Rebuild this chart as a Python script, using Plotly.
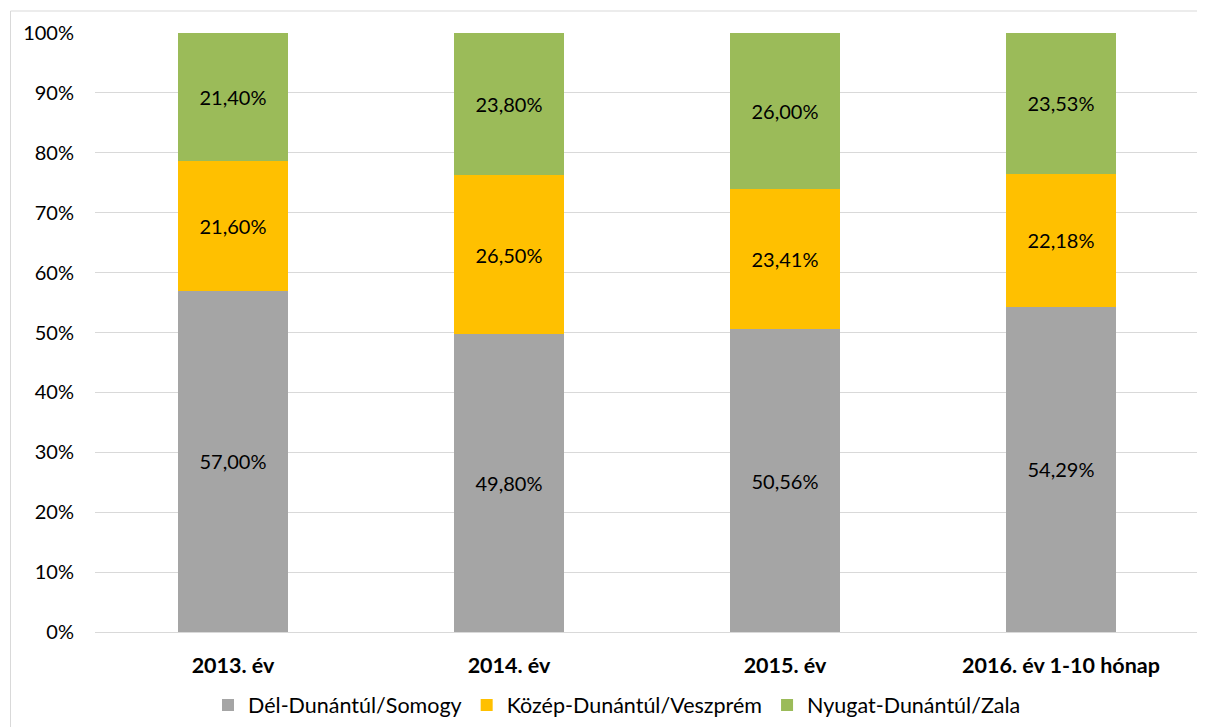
import plotly.graph_objects as go

categories = ["2013. év", "2014. év", "2015. év", "2016. év 1-10 hónap"]
del_dunantul = [57.00, 49.80, 50.56, 54.29]
kozep_dunantul = [21.60, 26.50, 23.41, 22.18]
nyugat_dunantul = [21.40, 23.80, 26.00, 23.53]
series_names = ["Dél-Dunántúl/Somogy", "Közép-Dunántúl/Veszprém", "Nyugat-Dunántúl/Zala"]
colors = ["#A5A5A5", "#FFC000", "#9BBB59"]
y_ticks = [0, 10, 20, 30, 40, 50, 60, 70, 80, 90, 100]

FONT = "Lato"
OFF = 8  # default body margin of the page

def fmt(v):
    return f"{v:.2f}".replace(".", ",") + "%"

fig = go.Figure()
for name, vals, col in zip(series_names, [del_dunantul, kozep_dunantul, nyugat_dunantul], colors):
    fig.add_trace(go.Bar(
        x=categories, y=vals, name=name, marker_color=col, marker_line_width=0,
        text=[fmt(v) for v in vals], textposition="inside", insidetextanchor="middle",
        textfont=dict(family=FONT, size=20, color="#000000"), textangle=0,
        hoverinfo="skip",
    ))

L, T, PW, PH = 95 - OFF, 33 - OFF, 1104, 599
W, H = 1205 - OFF, 727 - OFF

fig.update_layout(
    barmode="stack", barnorm="percent", bargap=0.6,
    width=W, height=H,
    margin=dict(l=L, r=W - L - PW, t=T, b=H - T - PH, autoexpand=False),
    paper_bgcolor="white", plot_bgcolor="white",
    font=dict(family=FONT, size=20, color="#000000"),
    legend=dict(orientation="h", x=(617 - 95) / PW, xanchor="center",
                y=(632 - 705) / PH, yanchor="middle",
                font=dict(family=FONT, size=21.5, color="#000000"), traceorder="normal",
                itemwidth=30, itemsizing="constant"),
    xaxis=dict(showgrid=False, showline=True, linecolor="#D9D9D9", linewidth=1,
               ticks="", tickfont=dict(family=FONT, size=21.5, weight="bold"),
               ticklabelstandoff=14, zeroline=False),
    yaxis=dict(range=[0, 100], tickvals=y_ticks, ticktext=[f"{t}%" for t in y_ticks],
               showgrid=True, gridcolor="#D9D9D9", gridwidth=1, zeroline=False,
               showline=False, ticks="", ticklabelstandoff=20,
               tickfont=dict(family=FONT, size=20)),
    shapes=[dict(type="rect", xref="paper", yref="paper",
                 x0=(10.5 - 95) / PW, x1=(1215 - 95) / PW,
                 y0=(632 - 740) / PH, y1=(632 - 11) / PH,
                 line=dict(color="#D9D9D9", width=1), fillcolor="rgba(0,0,0,0)", layer="below")],
)

fig.write_html("out.html")
